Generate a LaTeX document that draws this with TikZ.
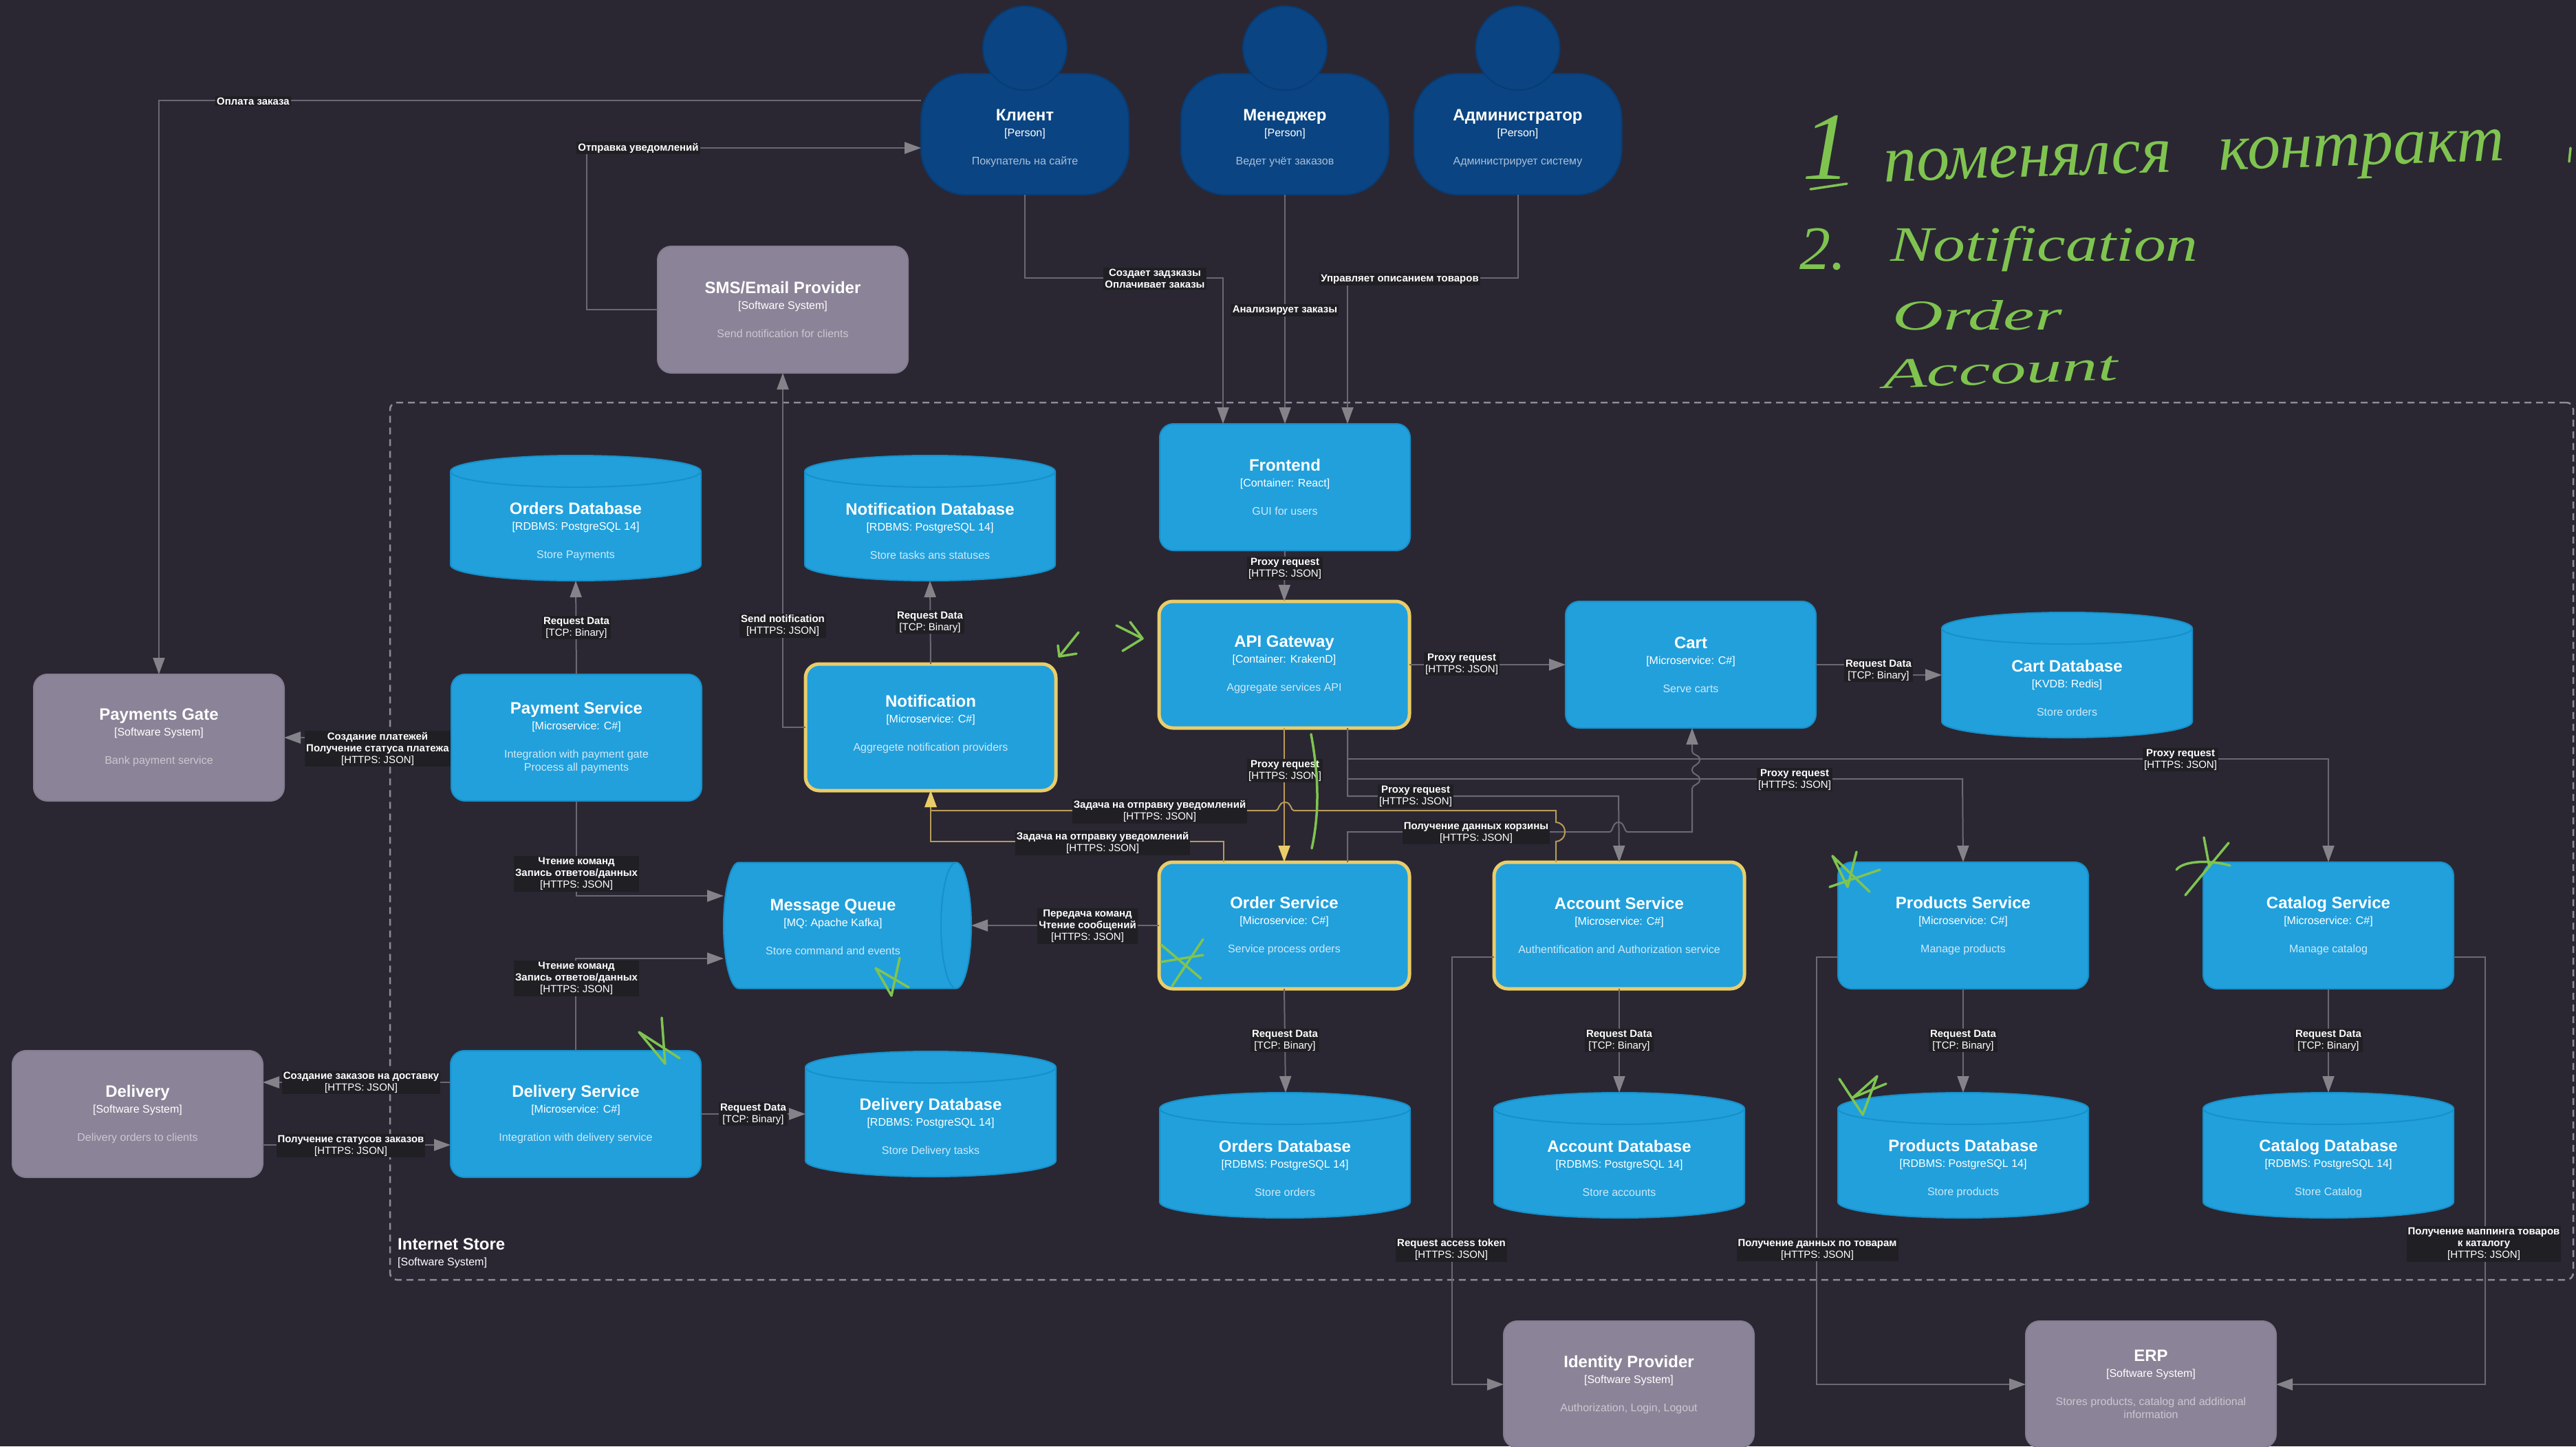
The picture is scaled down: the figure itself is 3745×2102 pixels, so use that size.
\documentclass[tikz,border=0pt]{standalone}
\usepackage{fontspec}
\usepackage{graphicx}
\setmainfont{Liberation Sans}
\newfontfamily\hwf{Liberation Serif}
\usetikzlibrary{arrows.meta,calc}
\definecolor{bgc}{HTML}{2A2733}
\definecolor{bluefill}{HTML}{21A0DC}
\definecolor{blueedge}{HTML}{1790C9}
\definecolor{personfill}{HTML}{0A4482}
\definecolor{personedge}{HTML}{083C74}
\definecolor{greyfill}{HTML}{8B8397}
\definecolor{greyedge}{HTML}{847C90}
\definecolor{yel}{HTML}{EACD6A}
\definecolor{yelline}{HTML}{B99B58}
\definecolor{linegrey}{HTML}{6C6873}
\definecolor{tipgrey}{HTML}{85838A}
\definecolor{labbg}{HTML}{201F24}
\definecolor{dscB}{HTML}{CFE9F7}
\definecolor{dscP}{HTML}{A9BFD8}
\definecolor{dscG}{HTML}{CCC7D2}
\definecolor{hwg}{HTML}{80C450}
\definecolor{dashc}{HTML}{8F8B97}
\newcommand{\brk}[1]{{[}#1{]}}
\newcommand{\ttl}[1]{{\fontsize{24}{19}\selectfont\bfseries #1}}
\newcommand{\dsB}[1]{{\color{dscB}#1}}
\newcommand{\dsP}[1]{{\color{dscP}#1}}
\newcommand{\dsG}[1]{{\color{dscG}#1}}
\newcommand{\bxt}[3]{\ttl{#1}\\[4pt]\brk{#2}\\[22pt]#3}
\newcommand{\lt}[2]{#1\\\brk{#2}}
\tikzset{
  basebox/.style={rectangle,outer sep=0pt,inner sep=2pt,align=center,text=white,rounded corners=20pt,
    font=\fontsize{16}{19}\selectfont,minimum width=364pt,minimum height=184pt,line width=2pt},
  svc/.style={basebox,fill=bluefill,draw=blueedge},
  svchi/.style={basebox,fill=bluefill,draw=yel,line width=5pt},
  ext/.style={basebox,fill=greyfill,draw=greyedge},
  person/.style={basebox,fill=personfill,draw=personedge,rounded corners=65pt,minimum width=302pt,minimum height=176pt},
  headc/.style={circle,fill=personfill,draw=personedge,line width=2pt,minimum size=122pt,inner sep=0pt},
  dbbox/.style={rectangle,outer sep=0pt,minimum width=364pt,minimum height=182pt,inner sep=0pt},
  dbtxt/.style={align=center,text=white,inner sep=1pt,font=\fontsize{16}{19}\selectfont},
  dbshape/.style={fill=bluefill,draw=blueedge,line width=2pt},
  boundary/.style={rectangle,draw=dashc,line width=2.5pt,dash pattern=on 10pt off 7pt,rounded corners=10pt,minimum width=3174pt,minimum height=1275pt,outer sep=0pt},
  bnd/.style={align=left,text=white,inner sep=0pt,font=\fontsize{16}{19}\selectfont},
  lab/.style={align=center,text=white,fill=labbg,inner sep=2pt,font=\fontsize{15}{17}\selectfont},
  flow/.style={draw=linegrey,line width=2pt,-{Triangle[length=24pt,width=17pt,color=tipgrey]}},
  yflow/.style={draw=yelline,line width=2pt,-{Triangle[length=24pt,width=17pt,color=yel]}},
  hw/.style={text=hwg,inner sep=0pt},
  stroke/.style={draw=hwg,line width=3.5pt,line cap=round,line join=round},
}
\newcommand{\dbn}[4]{%
  \node[dbbox] (#1) at (#2,#3) {};
  \begin{scope}[shift={(#2,#3)}]
    \path[dbshape] (-182,-68) .. controls (-182,-80.7) and (-100.5,-91) .. (0,-91)
      .. controls (100.5,-91) and (182,-80.7) .. (182,-68) -- (182,68)
      .. controls (182,80.7) and (100.5,91) .. (0,91)
      .. controls (-100.5,91) and (-182,80.7) .. (-182,68) -- cycle;
    \draw[blueedge,line width=2pt] (-182,-68) .. controls (-182,-55.3) and (-100.5,-45) .. (0,-45)
      .. controls (100.5,-45) and (182,-55.3) .. (182,-68);
  \end{scope}
  \node[dbtxt] (#1-t) at ([yshift=-19pt]#1.center) {#4};
}
\begin{document}
\begin{tikzpicture}[x=1pt,y=-1pt]
\path[use as bounding box,fill=bgc] (0,0) rectangle (3745,2102);

\node[boundary] (store) at (2154,1222.5) {};
\node[bnd,anchor=north west] (storet) at (578,1800) {\ttl{Internet Store}\\[4pt]\brk{Software System}};

% persons
\node[person] (kl) at (1490,195) {};
\node[person] (mg) at (1868,195) {};
\node[person] (ad) at (2206.5,195) {};
\node[headc] (klh) at (1490,70) {};
\node[headc] (mgh) at (1868,70) {};
\node[headc] (adh) at (2206.5,70) {};
\node[dbtxt] (kl-t) at ([yshift=-6pt]kl.center) {\bxt{Клиент}{Person}{\dsP{Покупатель на сайте}}};
\node[dbtxt] (mg-t) at ([yshift=-6pt]mg.center) {\bxt{Менеджер}{Person}{\dsP{Ведет учёт заказов}}};
\node[dbtxt] (ad-t) at ([yshift=-6pt]ad.center) {\bxt{Администратор}{Person}{\dsP{Администрирует систему}}};

% external systems
\node[ext] (sms) at (1138,450) {\bxt{SMS/Email Provider}{Software System}{\dsG{Send notification for clients}}};
\node[ext] (pg) at (231,1072) {\bxt{Payments Gate}{Software System}{\dsG{Bank payment service}}};
\node[ext] (dl) at (200,1619) {\bxt{Delivery}{Software System}{\dsG{Delivery orders to clients}}};
\node[ext] (idp) at (2368,2012) {\bxt{Identity Provider}{Software System}{\dsG{Authorization, Login, Logout}}};
\node[ext] (erp) at (3127,2012) {\bxt{ERP}{Software System}{\dsG{Stores products, catalog and additional}\\\dsG{information}}};

% services
\node[svc] (fe) at (1868,708) {\bxt{Frontend}{Container: React}{\dsB{GUI for users}}};
\node[svchi] (api) at (1867,966) {\bxt{API Gateway}{Container: KrakenD}{\dsB{Aggregate services API}}};
\node[svc] (cart) at (2458,966) {\bxt{Cart}{Microservice: C\#}{\dsB{Serve carts}}};
\node[svc] (pay) at (838,1072) {\bxt{Payment Service}{Microservice: C\#}{\dsB{Integration with payment gate}\\\dsB{Process all payments}}};
\node[svchi] (ntf) at (1353,1057) {};
\node[dbtxt] (ntf-t) at ([yshift=5pt]ntf.center) {\bxt{Notification}{Microservice: C\#}{\dsB{Aggregete notification providers}}};
\node[svchi] (ord) at (1867,1345) {\bxt{Order Service}{Microservice: C\#}{\dsB{Service process orders}}};
\node[svchi] (acc) at (2354,1345) {\bxt{Account Service}{Microservice: C\#}{\dsB{Authentification and Authorization service}}};
\node[svc] (prd) at (2854,1345) {\bxt{Products Service}{Microservice: C\#}{\dsB{Manage products}}};
\node[svc] (cat) at (3385,1345) {\bxt{Catalog Service}{Microservice: C\#}{\dsB{Manage catalog}}};
\node[svc] (dsv) at (837,1619) {\bxt{Delivery Service}{Microservice: C\#}{\dsB{Integration with delivery service}}};

% message queue
\node[dbbox,minimum width=360pt,minimum height=183pt] (mq) at (1232,1345) {};
\begin{scope}[shift={(1232,1345)}]
  \path[dbshape] (-158,-91.5) -- (158,-91.5) .. controls (170,-91.5) and (180,-50.5) .. (180,0)
    .. controls (180,50.5) and (170,91.5) .. (158,91.5) -- (-158,91.5)
    .. controls (-170,91.5) and (-180,50.5) .. (-180,0)
    .. controls (-180,-50.5) and (-170,-91.5) .. (-158,-91.5) -- cycle;
  \draw[blueedge,line width=2pt] (158,-91.5) .. controls (146,-91.5) and (136,-50.5) .. (136,0)
    .. controls (136,50.5) and (146,91.5) .. (158,91.5);
\end{scope}
\node[dbtxt] (mq-t) at ([xshift=-21pt,yshift=-2pt]mq.center) {\bxt{Message Queue}{MQ: Apache Kafka}{\dsB{Store command and events}}};

% databases
\dbn{odb1}{837}{753}{\bxt{Orders Database}{RDBMS: PostgreSQL 14}{\dsB{Store Payments}}}
\dbn{ndb}{1352}{753}{\bxt{Notification Database}{RDBMS: PostgreSQL 14}{\dsB{Store tasks ans statuses}}}
\dbn{cdb}{3005}{981}{\bxt{Cart Database}{KVDB: Redis}{\dsB{Store orders}}}
\dbn{ddb}{1353}{1619}{\bxt{Delivery Database}{RDBMS: PostgreSQL 14}{\dsB{Store Delivery tasks}}}
\dbn{odb2}{1868}{1679}{\bxt{Orders Database}{RDBMS: PostgreSQL 14}{\dsB{Store orders}}}
\dbn{adb}{2354}{1679}{\bxt{Account Database}{RDBMS: PostgreSQL 14}{\dsB{Store accounts}}}
\dbn{pdb}{2854}{1679}{\bxt{Products Database}{RDBMS: PostgreSQL 14}{\dsB{Store products}}}
\dbn{kdb}{3385}{1679}{\bxt{Catalog Database}{RDBMS: PostgreSQL 14}{\dsB{Store Catalog}}}

% connectors
\draw[flow] ([yshift=49pt]kl.west) -| (pg.north);
\draw[flow] (sms.west) -- (853,450) |- ([yshift=-20pt]kl.west);
\draw[flow] (kl.south) |- (1778,404) -- ([xshift=-90pt]fe.north);
\draw[flow] (mg.south) -- (fe.north);
\draw[flow] (ad.south) |- (1959,404) -- ([xshift=91pt]fe.north);
\draw[flow] (fe.south) -- (api.north);
\draw[flow] (api.east) -- (cart.west);
\draw[flow] (cart.east) -- (2731,966) |- (cdb.west);
\draw[yflow] (api.south) -- (ord.north);
\draw[flow] ([xshift=92pt]api.south) |- (2353,1157) -- (acc.north);
\draw[flow] ([xshift=92pt]api.south) |- (2853,1132) -- (prd.north);
\draw[flow] ([xshift=92pt]api.south) |- (3385,1103) -- (cat.north);
\draw[flow] ([xshift=92pt]ord.north) |- (2340,1209)
  .. controls (2345,1209) and (2344,1195) .. (2353,1195)
  .. controls (2362,1195) and (2361,1209) .. (2366,1209)
  -- (2460,1209) -- (2460,1146)
  .. controls (2460,1140) and (2471,1141) .. (2471,1133)
  .. controls (2471,1125) and (2460,1126) .. (2460,1120)
  -- (2460,1118)
  .. controls (2460,1112) and (2471,1112) .. (2471,1104)
  .. controls (2471,1096) and (2460,1098) .. (2460,1092)
  -- ([xshift=2pt]cart.south);
\draw[yflow] ([xshift=-92pt]acc.north) -- (2262,1223)
  .. controls (2268,1223) and (2275,1218) .. (2275,1209)
  .. controls (2275,1200) and (2268,1195) .. (2262,1195)
  -- (2262,1178) -- (1881,1178)
  .. controls (1876,1178) and (1878,1166) .. (1868,1166)
  .. controls (1858,1166) and (1860,1178) .. (1855,1178)
  -| (ntf.south);
\draw[yflow] ([xshift=-88pt]ord.north) |- (1353,1223) -- (ntf.south);
\draw[flow] (ntf.north) -- (ndb.south);
\draw[flow] (ntf.west) -- (1138,1057) -- (sms.south);
\draw[flow] (pay.north) -- (odb1.south);
\draw[flow] (pay.west) -- (pg.east);
\draw[flow] (pay.south) |- ([yshift=43pt]mq.west);
\draw[flow] (dsv.north) |- ([yshift=-48pt]mq.west);
\draw[flow] (ord.west) -- (mq.east);
\draw[flow] ([yshift=46pt]dsv.west) -- ([yshift=46pt]dl.east);
\draw[flow] ([yshift=-45pt]dl.east) -- ([yshift=-45pt]dsv.west);
\draw[flow] (dsv.east) -- (ddb.west);
\draw[flow] (ord.south) -- ([xshift=1pt]odb2.north);
\draw[flow] (acc.south) -- (adb.north);
\draw[flow] (prd.south) -- (pdb.north);
\draw[flow] (cat.south) -- (kdb.north);
\draw[flow] ([yshift=-46pt]acc.west) -- (2111,1391) |- (idp.west);
\draw[flow] ([yshift=-46pt]prd.west) -- (2641,1391) |- (erp.west);
\draw[flow] ([yshift=-46pt]cat.east) -- (3613,1391) |- (erp.east);

% labels
\node[lab] (l01) at (368,147) {\textbf{Оплата заказа}};
\node[lab] (l02) at (928,215) {\textbf{Отправка уведомлений}};
\node[lab] (l03) at (1679,405) {\textbf{Создает задзказы}\\\textbf{Оплачивает заказы}};
\node[lab] (l04) at (1868,451) {\textbf{Анализирует заказы}};
\node[lab] (l05) at (2035,406) {\textbf{Управляет описанием товаров}};
\node[lab] (l06) at (1868,826) {\lt{\textbf{Proxy request}}{HTTPS: JSON}};
\node[lab] (l07) at (2125,965) {\lt{\textbf{Proxy request}}{HTTPS: JSON}};
\node[lab] (l08) at (2731,974) {\lt{\textbf{Request Data}}{TCP: Binary}};
\node[lab] (l09) at (1868,1120) {\lt{\textbf{Proxy request}}{HTTPS: JSON}};
\node[lab] (l10) at (2058,1157) {\lt{\textbf{Proxy request}}{HTTPS: JSON}};
\node[lab] (l11) at (2609,1133) {\lt{\textbf{Proxy request}}{HTTPS: JSON}};
\node[lab] (l12) at (3170,1104) {\lt{\textbf{Proxy request}}{HTTPS: JSON}};
\node[lab] (l13) at (2146,1210) {\lt{\textbf{Получение данных корзины}}{HTTPS: JSON}};
\node[lab] (l14) at (1686,1179) {\lt{\textbf{Задача на отправку уведомлений}}{HTTPS: JSON}};
\node[lab] (l15) at (1603,1225) {\lt{\textbf{Задача на отправку уведомлений}}{HTTPS: JSON}};
\node[lab] (l16) at (1352,904) {\lt{\textbf{Request Data}}{TCP: Binary}};
\node[lab] (l17) at (1138,909) {\lt{\textbf{Send notification}}{HTTPS: JSON}};
\node[lab] (l18) at (838,912) {\lt{\textbf{Request Data}}{TCP: Binary}};
\node[lab] (l19) at (549,1088) {\textbf{Создание платежей}\\\lt{\textbf{Получение статуса платежа}}{HTTPS: JSON}};
\node[lab] (l20) at (838,1270) {\textbf{Чтение команд}\\\lt{\textbf{Запись ответов/данных}}{HTTPS: JSON}};
\node[lab] (l21) at (838,1422) {\textbf{Чтение команд}\\\lt{\textbf{Запись ответов/данных}}{HTTPS: JSON}};
\node[lab] (l22) at (1581,1346) {\textbf{Передача команд}\\\lt{\textbf{Чтение сообщений}}{HTTPS: JSON}};
\node[lab] (l23) at (525,1573) {\lt{\textbf{Создание заказов на доставку}}{HTTPS: JSON}};
\node[lab] (l24) at (510,1665) {\lt{\textbf{Получение статусов заказов}}{HTTPS: JSON}};
\node[lab] (l25) at (1095,1619) {\lt{\textbf{Request Data}}{TCP: Binary}};
\node[lab] (l26) at (1868,1512) {\lt{\textbf{Request Data}}{TCP: Binary}};
\node[lab] (l27) at (2354,1512) {\lt{\textbf{Request Data}}{TCP: Binary}};
\node[lab] (l28) at (2854,1512) {\lt{\textbf{Request Data}}{TCP: Binary}};
\node[lab] (l29) at (3385,1512) {\lt{\textbf{Request Data}}{TCP: Binary}};
\node[lab] (l30) at (2110,1816) {\lt{\textbf{Request access token}}{HTTPS: JSON}};
\node[lab] (l31) at (2642,1816) {\lt{\textbf{Получение данных по товарам}}{HTTPS: JSON}};
\node[lab] (l32) at (3611,1808) {\textbf{Получение маппинга товаров}\\\lt{\textbf{к каталогу}}{HTTPS: JSON}};

% handwriting
\node[hw,font=\hwf\itshape\fontsize{140}{140}\selectfont] (h1) at (2655,214) {1};
\node[hw,rotate=2,font=\hwf\itshape\fontsize{96}{96}\selectfont] (h2) at (3190,236) {поменялся\hspace{45pt} контракт};
\node[hw,font=\hwf\itshape\fontsize{90}{90}\selectfont] (h4) at (2650,362) {2.};
\node[hw,font=\hwf\itshape\fontsize{72}{72}\selectfont] (h5) at (2972,362) {\scalebox{1.3}[1]{Notification}};
\node[hw,font=\hwf\itshape\fontsize{62}{62}\selectfont] (h6) at (2875,458) {\scalebox{1.65}[1]{Order}};
\node[hw,rotate=2,font=\hwf\itshape\fontsize{62}{62}\selectfont] (h7) at (2908,538) {\scalebox{1.68}[1]{Account}};
\draw[stroke] (2632,275) -- (2685,267);
\draw[stroke] (3737,215) -- (3735,235);
\draw[stroke] (1568,919) -- (1540,954) -- (1538,938);
\draw[stroke] (1540,954) -- (1565,950);
\draw[stroke] (1623,909) -- (1661,928) -- (1632,946);
\draw[stroke] (1643,904) -- (1661,928);
\draw[stroke] (1906,1067) .. controls (1914,1110) and (1921,1170) .. (1907,1233);
\draw[stroke] (1749,1365) -- (1704,1433);
\draw[stroke] (1688,1373) -- (1746,1422);
\draw[stroke] (1688,1398) -- (1749,1388);
\draw[stroke] (1308,1392) -- (1296,1447) -- (1273,1407) -- (1321,1435);
\draw[stroke] (962,1479) -- (967,1546) -- (929,1500) -- (988,1538);
\draw[stroke] (2699,1238) -- (2686,1289) -- (2664,1244) -- (2718,1296);
\draw[stroke] (2660,1289) -- (2733,1264);
\draw[stroke] (3240,1225) -- (3177,1301);
\draw[stroke] (3164,1264) .. controls (3175,1250) and (3215,1250) .. (3242,1258);
\draw[stroke] (3204,1217) -- (3212,1260);
\draw[stroke] (2674,1568) -- (2708,1620) -- (2729,1564) -- (2694,1595) -- (2742,1575);
\end{tikzpicture}
\end{document}
